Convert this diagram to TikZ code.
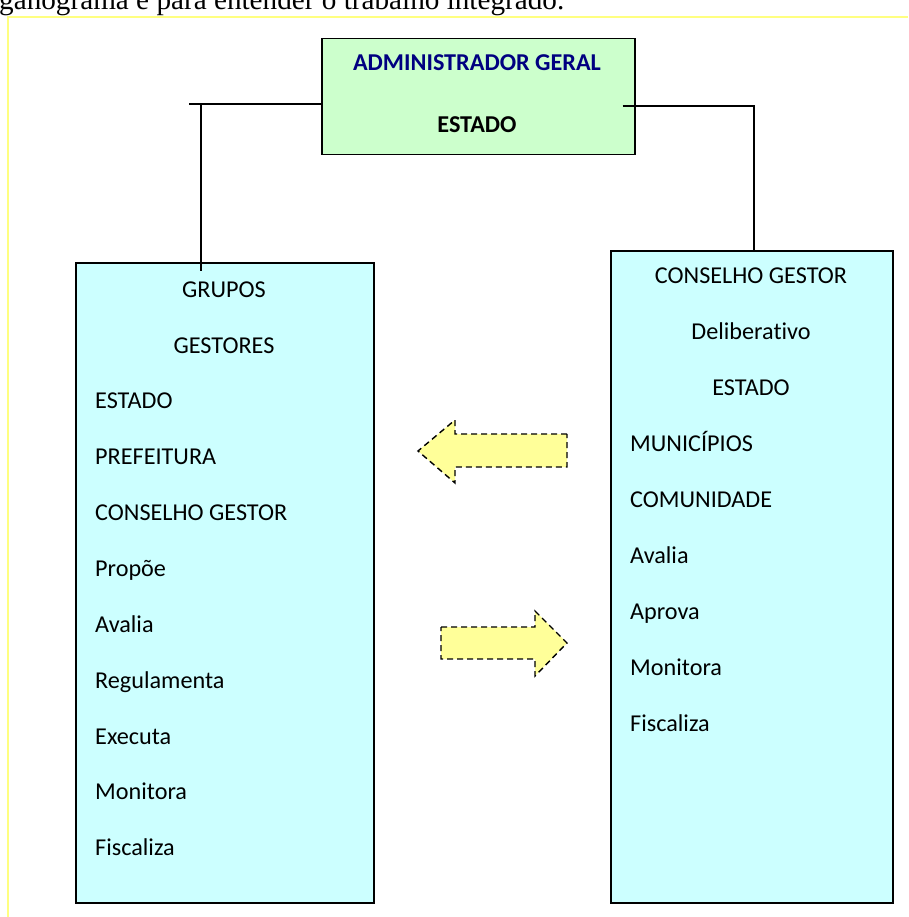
\documentclass[tikz,border=0pt]{standalone}
\usepackage{fontspec}
\setmainfont[Ligatures=NoCommon]{Carlito}
\newfontfamily\pageserif{Liberation Serif}
\usetikzlibrary{positioning}

\definecolor{admgreen}{HTML}{CCFFCC}
\definecolor{grpcyan}{HTML}{CCFFFF}
\definecolor{arrowyellow}{HTML}{FFFF99}
\definecolor{admblue}{HTML}{000080}
\definecolor{pageyellow}{HTML}{FFFF80}

\begin{document}
\begin{tikzpicture}[
    x=1pt,y=-1pt,
    font=\fontsize{24.2}{28}\selectfont,
    box/.style={draw,line width=1.5pt,anchor=north west,inner sep=0pt},
    item/.style={anchor=base west,inner sep=0pt},
    title/.style={anchor=base,inner sep=0pt},
    link/.style={line width=1.5pt},
    bigarrow/.style={draw,fill=arrowyellow,line width=1.4pt,
                     dash pattern=on 6pt off 4pt}
  ]
  \clip (0,0) rectangle (908,917);

  % text line of the page and its frame
  \node[anchor=base west,inner sep=0pt,font=\pageserif\fontsize{29.2}{33}\selectfont]
       (pagetext) at (-1,10) {ganograma e para entender o trabalho integrado.};
  \draw[pageyellow,line width=1.2pt] (908,17) -- (8,17) -- (8,917);

  % boxes
  \node[box,fill=admgreen,minimum width=313pt,minimum height=116pt] (admin) at (321,38) {};
  \node[box,fill=grpcyan,minimum width=298pt,minimum height=640pt] (grupos) at (75,262) {};
  \node[box,fill=grpcyan,minimum width=282pt,minimum height=652pt] (conselho) at (610,250) {};

  \node[title,text=admblue,font=\bfseries\fontsize{24.2}{28}\selectfont] (admtitle) at (477,71) {ADMINISTRADOR GERAL};
  \node[title,font=\bfseries\fontsize{24.2}{28}\selectfont] (admestado) at (477,133) {ESTADO};

  % left column
  \node[title] (g1) at (224,297) {GRUPOS};
  \node[title] (g2) at (224,353) {GESTORES};
  \node[item] (g3)  at (95,408)   {ESTADO};
  \node[item] (g4)  at (95,464)   {PREFEITURA};
  \node[item] (g5)  at (95,520)   {CONSELHO GESTOR};
  \node[item] (g6)  at (95,576)   {Propõe};
  \node[item] (g7)  at (95,632)   {Avalia};
  \node[item] (g8)  at (95,688)   {Regulamenta};
  \node[item] (g9)  at (95,744)   {Executa};
  \node[item] (g10) at (95,799)   {Monitora};
  \node[item] (g11) at (95,855)   {Fiscaliza};

  % right column
  \node[title] (c1) at (751,283) {CONSELHO GESTOR};
  \node[title] (c2) at (751,339) {Deliberativo};
  \node[title] (c3) at (751,395) {ESTADO};
  \node[item] (c4) at (630,451)  {MUNICÍPIOS};
  \node[item] (c5) at (630,507)  {COMUNIDADE};
  \node[item] (c6) at (630,563)  {Avalia};
  \node[item] (c7) at (630,619)  {Aprova};
  \node[item] (c8) at (630,675)  {Monitora};
  \node[item] (c9) at (630,731)  {Fiscaliza};

  % connectors
  \coordinate (ljoin) at (201,104);
  \coordinate (rjoin) at (754,106);
  \draw[link] (admin.west |- ljoin) -- ([xshift=-12pt]ljoin);
  \draw[link] (ljoin) -- ([yshift=-9pt]ljoin |- grupos.north);
  \draw[link] ([xshift=-13pt]admin.east |- rjoin) -- (rjoin) -- ([yshift=-2pt]rjoin |- conselho.north);

  % the two yellow arrows
  \draw[bigarrow] (567,434) -- (455,434) -- (455,420) -- (418,451) -- (455,483)
                  -- (455,467) -- (567,467) -- cycle;
  \draw[bigarrow] (441,627) -- (535,627) -- (535,611) -- (567,643) -- (535,676)
                  -- (535,659) -- (441,659) -- cycle;
\end{tikzpicture}
\end{document}
